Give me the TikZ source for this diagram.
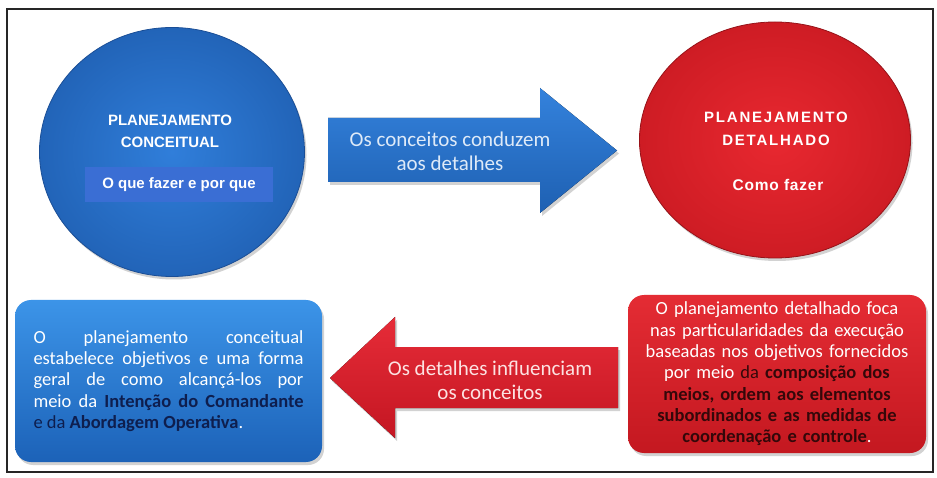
\documentclass[tikz,border=0pt]{standalone}
\usepackage{fontspec}
\setmainfont{Carlito}
\newfontfamily\arialf{Liberation Sans}
\usetikzlibrary{shapes.geometric,shadows}
\definecolor{bluein}{RGB}{48,126,218}
\definecolor{blueout}{RGB}{34,100,184}
\definecolor{blueedge}{RGB}{26,78,150}
\definecolor{redin}{RGB}{232,40,48}
\definecolor{redout}{RGB}{206,28,36}
\definecolor{rededge}{RGB}{150,18,24}
\definecolor{bluesub}{RGB}{58,110,212}
\definecolor{arrowbluetop}{RGB}{52,130,220}
\definecolor{arrowbluebot}{RGB}{30,96,178}
\definecolor{arrowredtop}{RGB}{230,44,56}
\definecolor{arrowredbot}{RGB}{196,22,34}
\definecolor{boxbluetop}{RGB}{60,148,232}
\definecolor{boxbluebot}{RGB}{28,98,184}
\definecolor{boxredtop}{RGB}{228,44,52}
\definecolor{boxredbot}{RGB}{196,24,32}
\definecolor{navytext}{RGB}{14,30,78}
\definecolor{darkred}{RGB}{52,8,10}
\definecolor{bluetxt}{RGB}{222,234,248}
\definecolor{redtxt}{RGB}{252,226,226}
\begin{document}
\begin{tikzpicture}[x=1pt,y=-1pt,
  shade/.style={drop shadow={shadow xshift=2pt,shadow yshift=-3pt,opacity=0.35}},
  circtitle/.style={text=white,font=\arialf\bfseries\fontsize{15}{22}\selectfont,align=center},
  arrowtext/.style={font=\fontsize{21}{24}\selectfont,align=center},
  boxtext/.style={font=\fontsize{18.5}{21.3}\selectfont,text=white}
]
\useasboundingbox (0,0) rectangle (937,478);
\fill[white] (0,0) rectangle (937,478);
\draw[line width=1.3pt,black!85] (7,9) rectangle (933,472);

% circles
\node[ellipse,shade,minimum width=265pt,minimum height=249pt,inner color=bluein,outer color=blueout,draw=blueedge,line width=0.8pt] (bc) at (172,152) {};
\node[ellipse,shade,minimum width=271pt,minimum height=236pt,inner color=redin,outer color=redout,draw=rededge,line width=0.8pt] (rc) at (775,140) {};

\node[circtitle] (bct) at (170,131) {PLANEJAMENTO\\CONCEITUAL};
\node[fill=bluesub,minimum width=188pt,minimum height=35pt,inner sep=0pt,text=white,font=\arialf\bfseries\fontsize{15}{18}\selectfont] (bcs) at (179,185) {O que fazer e por que};

\node[circtitle,font=\arialf\bfseries\fontsize{15}{23}\selectfont\addfontfeature{LetterSpace=12}] (rct) at (776,129) {PLANEJAMENTO\\DETALHADO};
\node[text=white,font=\arialf\bfseries\fontsize{15.5}{18}\selectfont\addfontfeature{LetterSpace=5}] (rcs) at (778,185) {Como fazer};

% arrows
\fill[shade,top color=arrowbluetop,bottom color=arrowbluebot] (328,118) -- (540,118) -- (540,88) -- (617,150.5) -- (540,213) -- (540,182) -- (328,182) -- cycle;
\node[arrowtext,text=bluetxt] (at1) at (450,151) {Os conceitos conduzem\\aos detalhes};

\fill[shade,top color=arrowredtop,bottom color=arrowredbot] (618,347) -- (395,347) -- (395,317) -- (330,378) -- (395,438) -- (395,408) -- (618,408) -- cycle;
\node[arrowtext,text=redtxt] (at2) at (490,380) {Os detalhes influenciam\\os conceitos};

% boxes
\node[boxtext,shade,rounded corners=16pt,top color=boxbluetop,bottom color=boxbluebot,minimum width=307pt,minimum height=162pt,text width=270pt,align=justify,inner xsep=18.5pt] (bb) at (168.5,381)
{O planejamento conceitual\linebreak estabelece objetivos e uma forma\linebreak geral de como alcançá-los por\linebreak meio da \textcolor{navytext}{\textbf{Intenção do Comandante}}\linebreak \textcolor{navytext}{e da \textbf{Abordagem Operativa}}.};

\node[boxtext,shade,rounded corners=16pt,top color=boxredtop,bottom color=boxredbot,minimum width=298pt,minimum height=158pt,text width=290pt,align=center,inner xsep=4pt] (rb) at (777,374)
{O planejamento detalhado foca\\nas particularidades da execução\\baseadas nos objetivos fornecidos\\por meio \textcolor{darkred}{da \textbf{composição dos}}\\\textcolor{darkred}{\textbf{meios, ordem aos elementos}}\\\textcolor{darkred}{\textbf{subordinados e as medidas de}}\\\textcolor{darkred}{\textbf{coordenação e controle}}.};
\end{tikzpicture}
\end{document}
